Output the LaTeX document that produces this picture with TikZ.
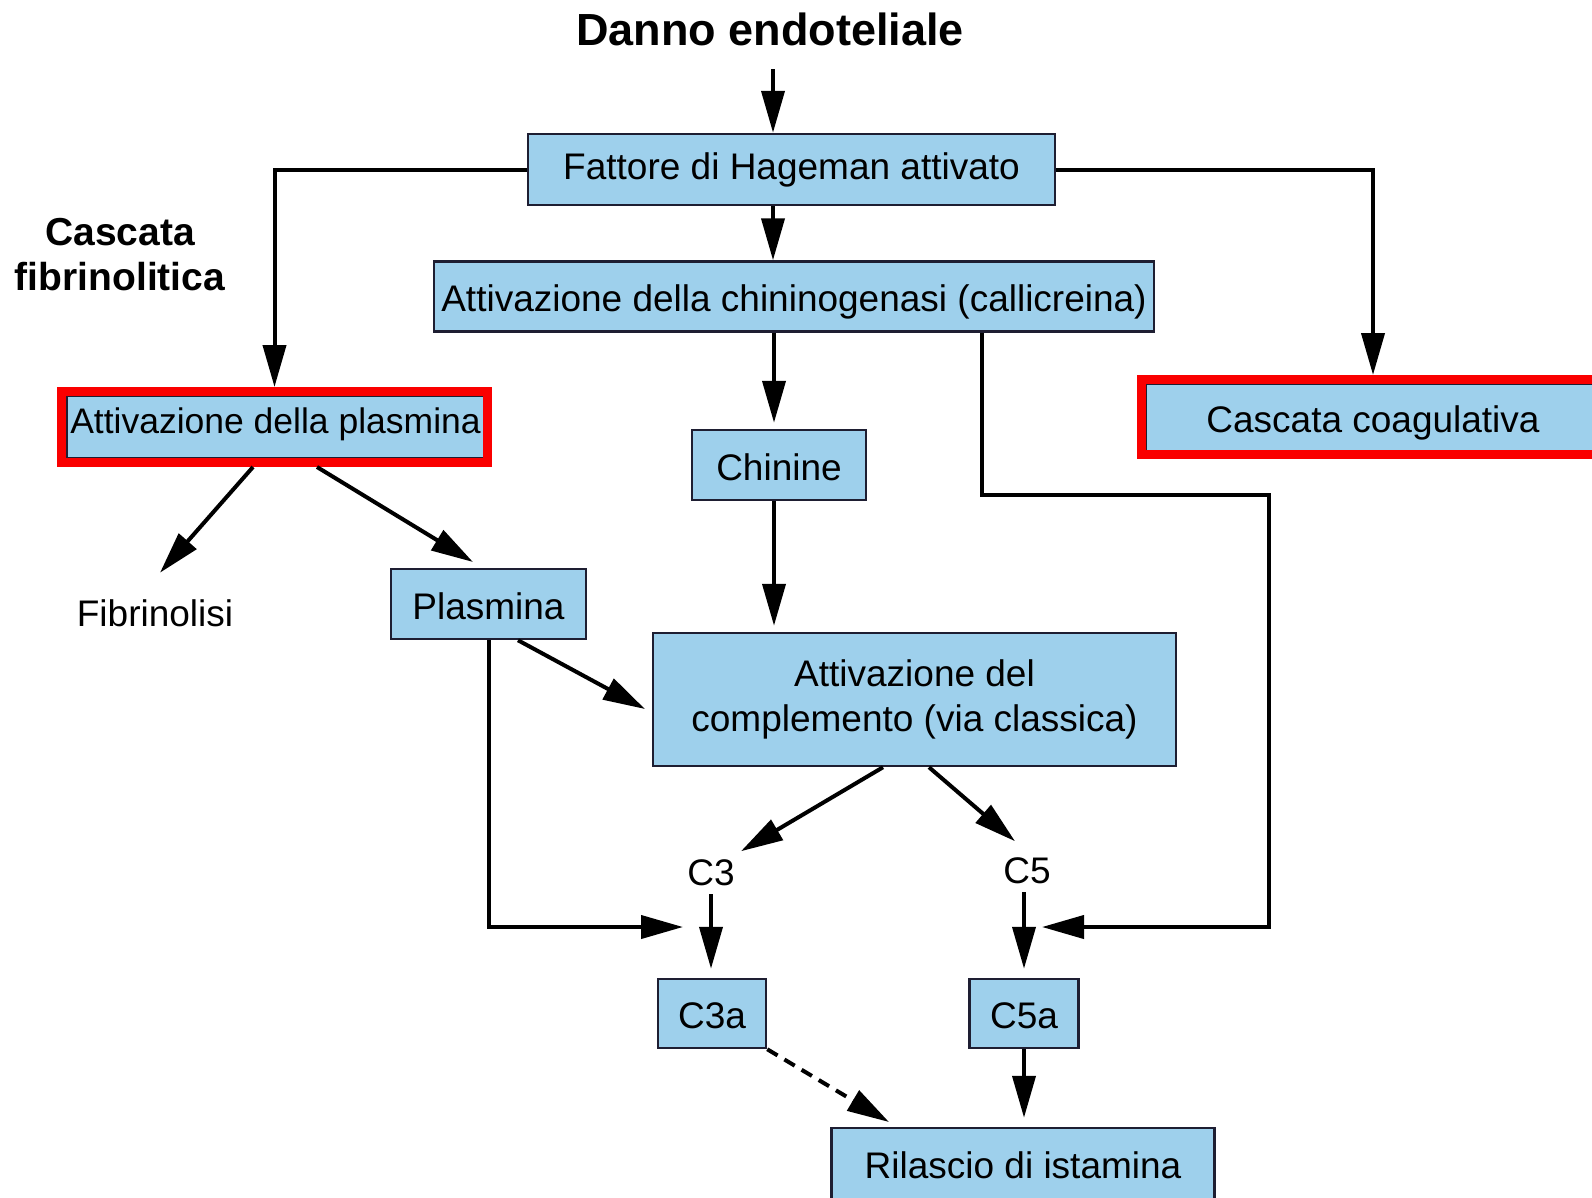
\documentclass[tikz,border=0pt]{standalone}
\usepackage{fontspec}
\setmainfont{Liberation Sans}
\usetikzlibrary{arrows.meta}
\definecolor{boxblue}{RGB}{158,208,236}
\definecolor{boxline}{RGB}{30,30,50}
\definecolor{hlred}{RGB}{250,0,0}
\begin{document}
\begin{tikzpicture}[x=1pt,y=-1pt,
  bx/.style={draw=boxline, line width=2.5pt, fill=boxblue, inner sep=0pt, font=\fontsize{37}{45}\selectfont, text=black, align=center},
  oneline/.style={text height=30pt, text depth=0pt},
  redframe/.style={draw=hlred, line width=9pt, inner sep=0pt},
  arr/.style={line width=4pt, -{Triangle[length=42pt,width=23pt]}},
  lbl/.style={inner sep=0pt, font=\fontsize{37}{45}\selectfont}]
\useasboundingbox (0,0) rectangle (1592,1197);
\clip (0,0) rectangle (1592,1197);
\fill[white] (0,0) rectangle (1592,1197);

% texts
\node[font=\bfseries\fontsize{45}{54}\selectfont, inner sep=0pt] (title) at (770,29) {Danno endoteliale};
\node[font=\bfseries\fontsize{39}{45}\selectfont, align=center, inner sep=0pt] (fibcasc) at (120,255) {Cascata\\fibrinolitica};

% boxes
\node[bx, minimum width=527pt, minimum height=71pt] (fattore) at (791.5,169.5) {Fattore di Hageman attivato};
\node[bx, oneline, minimum width=720pt, minimum height=70pt] (chinin) at (794,296.5) {Attivazione della chininogenasi (callicreina)};
\node[bx, text height=12pt, text depth=0pt, minimum width=417pt, minimum height=62pt, font=\fontsize{35.5}{42}\selectfont] (plasact) at (275.5,427) {Attivazione della plasmina};
\node[redframe, minimum width=426pt, minimum height=71pt] (redA) at (274.5,427) {};
\node[bx, oneline, minimum width=455pt, minimum height=67pt] (coag) at (1373,417.5) {Cascata coagulativa};
\node[redframe, minimum width=463pt, minimum height=75pt] (redC) at (1373,417) {};
\node[bx, oneline, minimum width=174pt, minimum height=70pt] (chinine) at (779,465) {Chinine};
\node[bx, oneline, minimum width=195pt, minimum height=70pt] (plasmina) at (488.5,604) {Plasmina};
\node[bx, minimum width=523pt, minimum height=133pt] (compl) at (914.5,699.5) {Attivazione del\\complemento (via classica)};
\node[lbl] (fibr) at (155,613) {Fibrinolisi};
\node[lbl] (c3) at (711,873) {C3};
\node[lbl] (c5) at (1027,871) {C5};
\node[bx, oneline, minimum width=108pt, minimum height=69pt] (c3a) at (712,1013.5) {C3a};
\node[bx, oneline, minimum width=109pt, minimum height=69pt] (c5a) at (1024,1013.5) {C5a};
\node[bx, oneline, minimum width=383pt, minimum height=71pt] (ril) at (1023,1163.5) {Rilascio di istamina};

% connectors
\coordinate (topin) at (773,69);
\draw[arr] (topin) -- (topin |- fattore.north);
\draw[arr] (fattore.south -| topin) -- (chinin.north -| topin);
\draw[arr] (fattore.west) -| (redA.north);
\draw[arr] (fattore.east) -| (redC.north);

\coordinate (colA) at (774,0);
\draw[arr, shorten >=6pt] (chinin.south -| colA) -- (chinine.north -| colA);
\draw[arr, shorten >=6pt] (chinine.south -| colA) -- (compl.north -| colA);

\coordinate (r1) at (982,494.5);
\coordinate (r2) at (1269,927);
\coordinate (c5in) at (1042,927);
\draw[arr] (chinin.south -| r1) -- (r1) -| (r2) -- (c5in);

\coordinate (l1) at (488.5,927);
\coordinate (c3in) at (683,927);
\draw[arr] (plasmina.south) -- (l1) -- (c3in);

\draw[arr] ([xshift=29.5pt]plasmina.south) -- ([xshift=-6.75pt,yshift=-9.5pt]compl.west);
\draw[arr] ([xshift=-21.5pt]redA.south) -- ([xshift=5pt,yshift=26.5pt]fibr.north);
\draw[arr] ([xshift=42.5pt]redA.south) -- ([xshift=-15.5pt,yshift=5.75pt]plasmina.north);

\draw[arr] ([xshift=-31.5pt]compl.south) -- ([xshift=30pt,yshift=8.5pt]c3.north);
\draw[arr] ([xshift=14.5pt]compl.south) -- ([xshift=-12pt,yshift=16.5pt]c5.north);

\draw[arr, shorten <=8pt, shorten >=9pt] (c3.south) -- (c3.south |- c3a.north);
\draw[arr, shorten <=8pt, shorten >=9pt] (c5a.north |- c5.south) -- (c5a.north);
\draw[arr, shorten >=9pt] (c5a.south) -- (c5a.south |- ril.north);
\draw[arr, dash pattern=on 12pt off 8pt] (c3a.south east) -- ([xshift=58.75pt,yshift=4.75pt]ril.north west);
\end{tikzpicture}
\end{document}
